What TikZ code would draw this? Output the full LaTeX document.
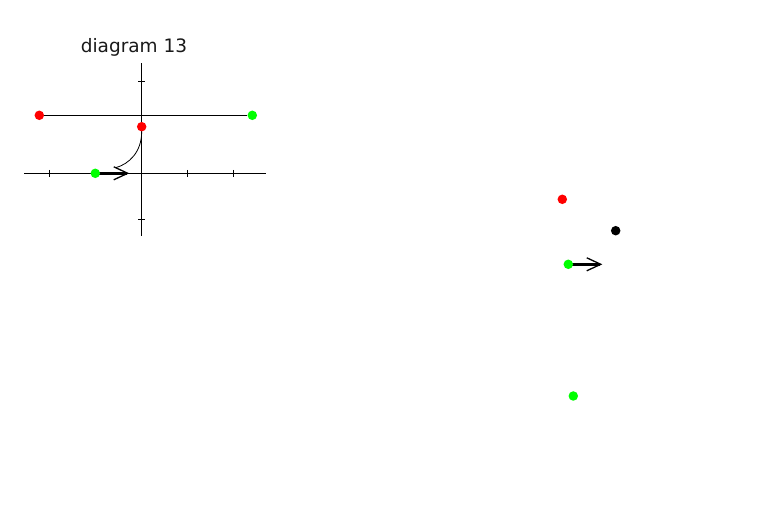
\documentclass[tikz,border=0pt]{standalone}
\usepackage{fontspec}
\setmainfont{DejaVu Sans}
\usepackage{xcolor}
\usetikzlibrary{arrows.meta, positioning}
\definecolor{dotred}{RGB}{255, 0, 0}
\definecolor{dotgreen}{RGB}{0, 255, 0}

\tikzset{
    dot/.style={circle, fill=#1, inner sep=0pt, minimum size=9.5pt},
    axisline/.style={line width=0.9pt},
    vec/.style={line width=2.6pt, -{Straight Barb[length=14pt, width=13pt, line width=1.3pt]}}
}

\begin{document}
\begin{tikzpicture}[x=1pt, y=-1pt]
    \useasboundingbox (0,0) rectangle (780,529);

    % title
    \node[anchor=base, font=\fontsize{18.5}{21}\selectfont, text=black!90] (title) at (134,52.7) {diagram 13};

    % axes with ticks
    \draw[axisline] (24,173.3) -- (265.7,173.3);
    \draw[axisline] (141.7,63.3) -- (141.7,235.7);
    \foreach \t in {49.7, 95.7, 187.7, 233.7}
        \draw[axisline] (\t,169.8) -- (\t,176.8);
    \foreach \t in {81.3, 127.3, 219.3}
        \draw[axisline] (138.2,\t) -- (145.2,\t);

    % left diagram
    \node[dot=dotred] (leftend) at (39.3,115.3) {};
    \node[dot=dotgreen] (rightend) at (252.3,115.3) {};
    \draw[axisline] (leftend) -- (rightend);
    \coordinate (baseA) at (95.3,173.3);
    \coordinate (tipA) at (129.3,173.3);
    \coordinate (bend) at (116,167.6);
    \node[dot=dotred] (top) at (141.7,126.7) {};
    \draw[line width=0.8pt] (top.south) .. controls (141.7,152) and (129,164) .. (bend);
    \draw[vec] (baseA) -- (tipA);
    \node[dot=dotgreen] (startA) at (baseA) {};

    % right group
    \node[dot=dotred] (redB) at (562.3,199.3) {};
    \node[dot=black] (blackB) at (615.7,230.7) {};
    \coordinate (baseB) at (568.3,264.3);
    \coordinate (tipB) at (602.3,264.3);
    \draw[vec] (baseB) -- (tipB);
    \node[dot=dotgreen] (startB) at (baseB) {};
    \node[dot=dotgreen] (lowB) at (573.3,396) {};
\end{tikzpicture}
\end{document}
